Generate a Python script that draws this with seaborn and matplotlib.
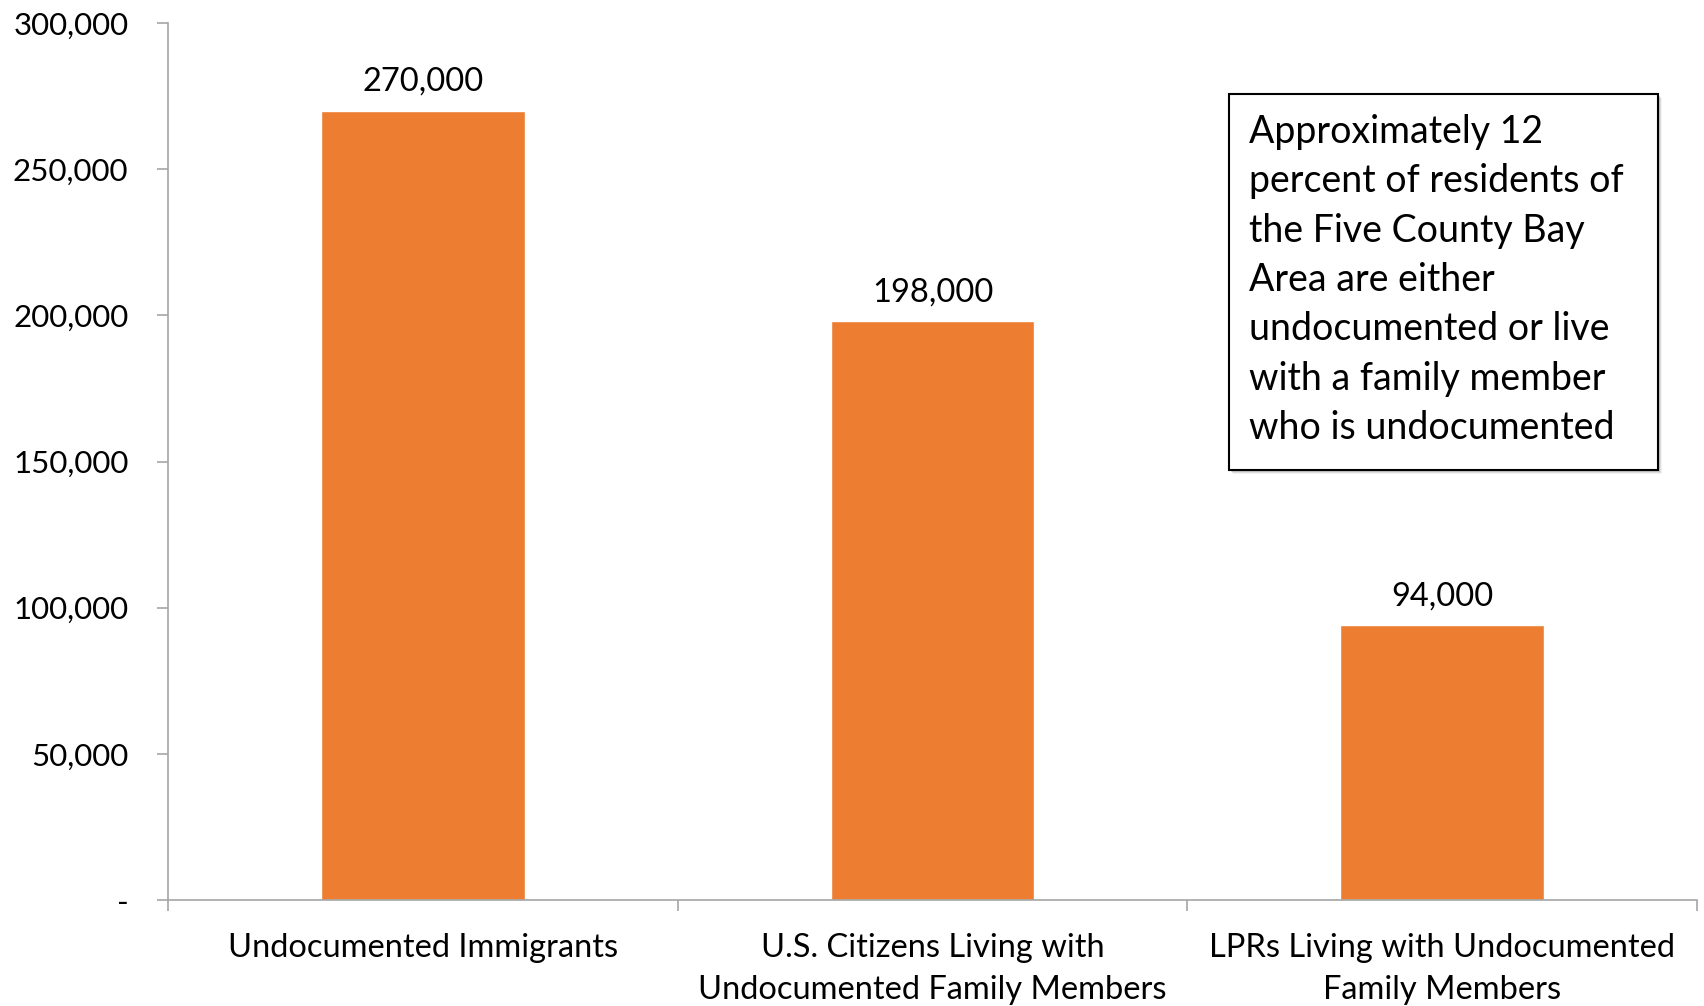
import matplotlib
matplotlib.use("Agg")
import matplotlib.pyplot as plt
from matplotlib.patches import Rectangle
from matplotlib.ticker import FixedLocator, FuncFormatter
import seaborn as sns
import pandas as pd

categories = [
    "Undocumented Immigrants",
    "U.S. Citizens Living with\nUndocumented Family Members",
    "LPRs Living with Undocumented\nFamily Members",
]
values = [270000, 198000, 94000]
value_labels = ["270,000", "198,000", "94,000"]
y_ticks = [0, 50000, 100000, 150000, 200000, 250000, 300000]
note = ("Approximately 12\npercent of residents of\nthe Five County Bay\n"
        "Area are either\nundocumented or live\nwith a family member\n"
        "who is undocumented")

sns.set_theme(style="white")
plt.rcParams["font.family"] = ["Lato", "DejaVu Sans"]

df = pd.DataFrame({"group": categories, "count": values})

fig = plt.figure(figsize=(17.04, 10.06), dpi=100)
ax = fig.add_axes([168 / 1704, 1 - 900 / 1006, (1697 - 168) / 1704, (900 - 23) / 1006])

sns.barplot(data=df, x="group", y="count", color="#ED7D31", saturation=1,
            width=0.4, ax=ax)

ax.set_xlim(-0.5, 2.5)
ax.set_ylim(0, 300000)
ax.set_xlabel("")
ax.set_ylabel("")

axis_grey = "#A6A6A6"
for side in ["top", "right"]:
    ax.spines[side].set_visible(False)
for side in ["left", "bottom"]:
    ax.spines[side].set_color(axis_grey)
    ax.spines[side].set_linewidth(1.2)

ax.yaxis.set_major_locator(FixedLocator(y_ticks))
ax.yaxis.set_major_formatter(FuncFormatter(lambda v, p: "-" if v == 0 else f"{int(v):,}"))
ax.tick_params(axis="y", which="major", direction="out", length=8, width=1.2,
               color=axis_grey, left=True, labelsize=22.5, labelcolor="black", pad=20.5)

# category boundaries get the tick marks, labels sit centered under the bars
ax.set_xticks(range(len(categories)))
ax.set_xticklabels(categories, fontsize=23.5, color="black", linespacing=1.5)
ax.set_xticks([-0.5, 0.5, 1.5, 2.5], minor=True)
ax.tick_params(axis="x", which="major", length=0, pad=24)
ax.tick_params(axis="x", which="minor", direction="out", length=8, width=1.2,
               color=axis_grey, bottom=True)

for i, (v, lab) in enumerate(zip(values, value_labels)):
    ax.annotate(lab, (i, v), xytext=(0, 10), textcoords="offset points",
                ha="center", va="bottom", fontsize=23.5, color="black")

# note box with a soft drop shadow
bx, by, bw, bh = 1229 / 1704, 1 - 470 / 1006, (1658 - 1229) / 1704, (470 - 94) / 1006
for k, a in enumerate([0.10, 0.18, 0.28]):
    off = (4 - k) / 1704
    fig.patches.append(Rectangle((bx + off, by - off * 1704 / 1006), bw, bh,
                                 transform=fig.transFigure, facecolor="#808080",
                                 edgecolor="none", alpha=a, zorder=2))
fig.patches.append(Rectangle((bx, by), bw, bh, transform=fig.transFigure,
                             facecolor="white", edgecolor="black", linewidth=1.5, zorder=3))
fig.text(1249 / 1704, 1 - 114 / 1006, note, ha="left", va="top", fontsize=27,
         linespacing=1.46, color="black", zorder=4)

fig.savefig("out.png", dpi=100)
